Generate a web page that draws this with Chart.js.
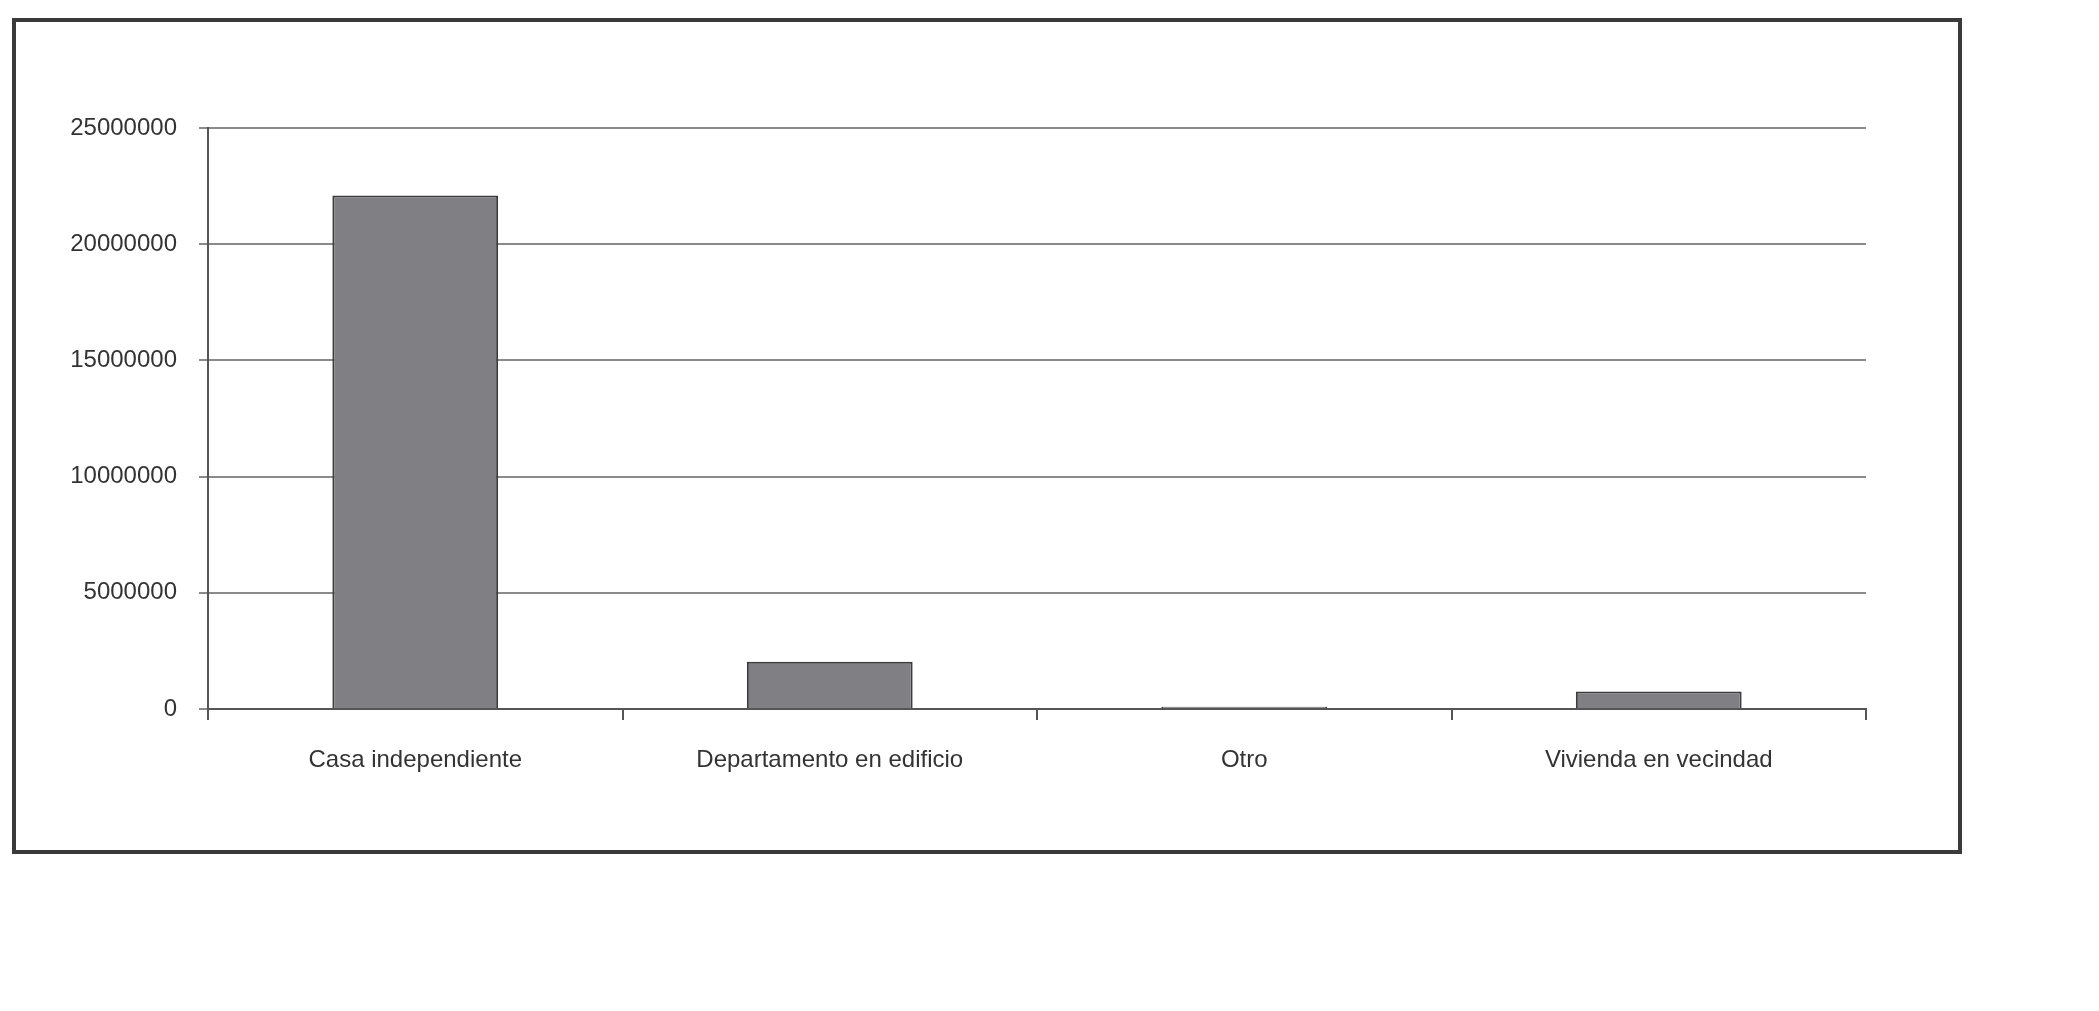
<!DOCTYPE html>
<html><head><meta charset="utf-8">
<script src="https://cdn.jsdelivr.net/npm/chart.js@4/dist/chart.umd.min.js"></script>
<style>html,body{margin:0;padding:0;background:#fff;overflow:hidden}#c{display:block}</style>
</head><body>
<canvas id="c" width="2099" height="1011"></canvas>
<script>
const categories = ["Casa independiente", "Departamento en edificio", "Otro", "Vivienda en vecindad"];
const viviendas = [22100000, 2030000, 100000, 750000];
const yTicks = [0, 5000000, 10000000, 15000000, 20000000, 25000000];

const frame = {
  id: 'frame',
  beforeDraw(chart) {
    const ctx = chart.ctx;
    ctx.save();
    ctx.fillStyle = '#fff';
    ctx.fillRect(0, 0, chart.width, chart.height);
    ctx.strokeStyle = '#3a3a3a';
    ctx.lineWidth = 4;
    ctx.strokeRect(14, 20, 1946, 832);
    ctx.restore();
  }
};

new Chart(document.getElementById('c'), {
  type: 'bar',
  data: { labels: categories, datasets: [{
    data: viviendas, backgroundColor: '#808084', borderColor: '#3c3c3c', borderWidth: 2,
    barPercentage: 0.4, categoryPercentage: 1.0
  }]},
  plugins: [frame],
  options: {
    responsive: false, animation: false,
    layout: { padding: { left: 0, top: 128, right: 233, bottom: 0 } },
    plugins: { legend: { display: false }, tooltip: { enabled: false } },
    scales: {
      x: {
        offset: true,
        afterFit: s => { s.height = 302; },
        grid: { offset: true, drawOnChartArea: false, drawTicks: true, tickLength: 11, color: '#555', lineWidth: 2 },
        border: { display: true, color: '#555', width: 2 },
        ticks: { padding: 26, color: '#333', font: { family: 'Liberation Sans, Arial', size: 24 }, maxRotation: 0 }
      },
      y: {
        min: 0, max: 25000000,
        afterFit: s => { s.width = 208; },
        afterBuildTicks: s => { s.ticks = yTicks.map(v => ({ value: v })); },
        grid: { color: '#8a8a8a', lineWidth: 2, drawTicks: true, tickLength: 9 },
        border: { display: true, color: '#555', width: 2 },
        ticks: { padding: 22, color: '#333', font: { family: 'Liberation Sans, Arial', size: 24 }, callback: v => String(v) }
      }
    }
  }
});
</script>
</body></html>
